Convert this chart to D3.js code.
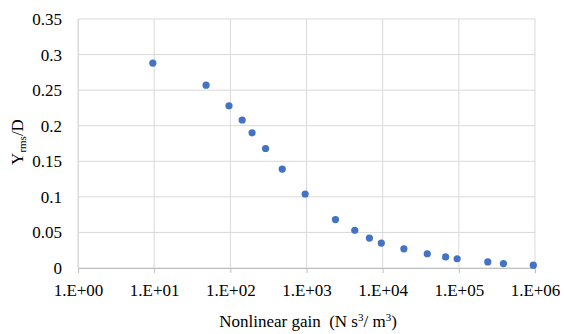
<!DOCTYPE html>
<html>
<head>
<meta charset="utf-8">
<script src="https://cdn.jsdelivr.net/npm/d3@7"></script>
</head>
<body style="margin:0; background:#fff">
<div id="chart"></div>
<script>
// data
var gain = [9.6, 48, 96, 143, 193, 290, 480, 960, 2400, 4300, 6700, 9600, 19000, 38500, 67000, 95000, 240000, 385000, 950000];
var yrms = [0.288, 0.257, 0.228, 0.208, 0.190, 0.168, 0.139, 0.104, 0.068, 0.053, 0.042, 0.035, 0.027, 0.020, 0.0155, 0.013, 0.0085, 0.0062, 0.004];
var xTicks = [1, 10, 100, 1000, 10000, 100000, 1000000];
var xTickLabels = ["1.E+00", "1.E+01", "1.E+02", "1.E+03", "1.E+04", "1.E+05", "1.E+06"];
var yTicks = [0, 0.05, 0.1, 0.15, 0.2, 0.25, 0.3, 0.35];
var yTickLabels = ["0", "0.05", "0.1", "0.15", "0.2", "0.25", "0.3", "0.35"];

var W = 564, H = 334;
var margin = {top: 19, right: 29, bottom: 66, left: 78};
var width = W - margin.left - margin.right,
    height = H - margin.top - margin.bottom;
var serif = "Liberation Serif";
var fs = 17;

var svg = d3.select("#chart").append("svg")
  .attr("width", W)
  .attr("height", H);
var g = svg.append("g")
  .attr("transform", "translate(" + margin.left + "," + margin.top + ")");

var x = d3.scaleLog().domain([1, 1e6]).range([0, width]);
var y = d3.scaleLinear().domain([0, 0.35]).range([height, 0]);

// grid
g.selectAll(".hgrid").data(yTicks).enter().append("line")
  .attr("x1", 0).attr("x2", width)
  .attr("y1", function(d) { return y(d); })
  .attr("y2", function(d) { return y(d); })
  .attr("stroke", "#d9d9d9").attr("stroke-width", 1);
g.selectAll(".vgrid").data(xTicks).enter().append("line")
  .attr("y1", 0).attr("y2", height)
  .attr("x1", function(d) { return x(d); })
  .attr("x2", function(d) { return x(d); })
  .attr("stroke", "#d9d9d9").attr("stroke-width", 1);

// x axis
var xAxis = g.append("g")
  .attr("transform", "translate(0," + height + ")")
  .call(d3.axisBottom(x).tickValues(xTicks).tickSize(5)
    .tickFormat(function(d, i) { return xTickLabels[i]; }));
xAxis.select(".domain").attr("stroke", "#bfbfbf");
xAxis.selectAll(".tick line").attr("stroke", "#bfbfbf");
xAxis.selectAll("text").attr("font-size", fs).attr("dy", "1.15em")
  .attr("font-family", serif).attr("fill", "#000");

// y axis
var yAxis = g.append("g")
  .call(d3.axisLeft(y).tickValues(yTicks).tickSize(0).tickPadding(16)
    .tickFormat(function(d, i) { return yTickLabels[i]; }));
yAxis.select(".domain").attr("stroke", "#d9d9d9");
yAxis.selectAll("text").attr("font-size", fs)
  .attr("font-family", serif).attr("fill", "#000");

// points
g.selectAll(".pt").data(gain).enter().append("circle")
  .attr("cx", function(d) { return x(d); })
  .attr("cy", function(d, i) { return y(yrms[i]); })
  .attr("r", 3.6)
  .attr("fill", "#4472c4");

// axis titles
var xt = svg.append("text")
  .attr("x", 308).attr("y", 327)
  .attr("text-anchor", "middle")
  .attr("font-family", serif)
  .attr("font-size", fs);
xt.append("tspan").text("Nonlinear gain\u00a0\u00a0(N s");
xt.append("tspan").attr("dy", -6).attr("font-size", 11).text("3");
xt.append("tspan").attr("dy", 6).text("/ m");
xt.append("tspan").attr("dy", -6).attr("font-size", 11).text("3");
xt.append("tspan").attr("dy", 6).text(")");

var yt = svg.append("text")
  .attr("transform", "translate(23,142) rotate(-90)")
  .attr("text-anchor", "middle")
  .attr("font-family", serif)
  .attr("font-size", fs);
yt.append("tspan").text("Y");
yt.append("tspan").attr("dy", 3).attr("font-size", 11).text("rms");
yt.append("tspan").attr("dy", -3).text("/D");
</script>
</body>
</html>
